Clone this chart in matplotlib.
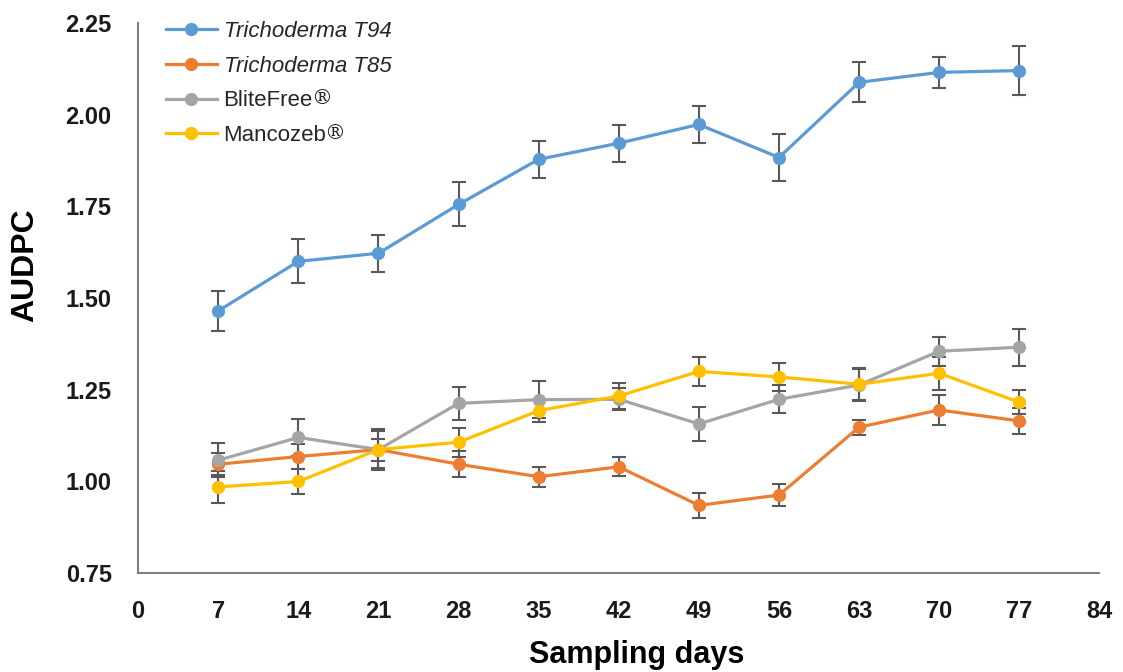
import numpy as np
import matplotlib.pyplot as plt

plt.rcParams['font.family'] = ['Liberation Sans', 'DejaVu Sans']

days = [7, 14, 21, 28, 35, 42, 49, 56, 63, 70, 77]

t94 = [1.465, 1.600, 1.622, 1.755, 1.878, 1.922, 1.973, 1.883, 2.088, 2.115, 2.120]
t94_err = [0.055, 0.060, 0.050, 0.060, 0.050, 0.050, 0.050, 0.065, 0.055, 0.042, 0.068]

t85 = [1.047, 1.068, 1.087, 1.047, 1.013, 1.040, 0.935, 0.963, 1.148, 1.195, 1.165]
t85_err = [0.030, 0.035, 0.050, 0.035, 0.027, 0.026, 0.034, 0.030, 0.020, 0.040, 0.035]

blite = [1.058, 1.120, 1.087, 1.213, 1.223, 1.224, 1.157, 1.224, 1.263, 1.355, 1.366]
blite_err = [0.046, 0.050, 0.057, 0.045, 0.050, 0.030, 0.047, 0.038, 0.043, 0.039, 0.050]

manco = [0.985, 1.000, 1.087, 1.107, 1.193, 1.233, 1.300, 1.285, 1.265, 1.295, 1.216]
manco_err = [0.044, 0.035, 0.030, 0.040, 0.030, 0.035, 0.040, 0.039, 0.043, 0.045, 0.032]

labels = ['Trichoderma T94', 'Trichoderma T85', 'BliteFree', 'Mancozeb']
colors = ['#5B9BD5', '#ED7D31', '#A5A5A5', '#FFC000']

fig = plt.figure(figsize=(11.23, 6.72), dpi=100)
ax = fig.add_axes([0.123, 0.147, 0.856, 0.819])

series = [(t94, t94_err), (t85, t85_err), (blite, blite_err), (manco, manco_err)]
for (vals, err), lab, c in zip(series, labels, colors):
    ax.errorbar(days, vals, yerr=err, color=c, lw=2.3, marker='o', ms=8.5,
                ecolor='#595959', elinewidth=1.5, capsize=5, capthick=1.5,
                label=lab)

ax.set_xlim(0, 84)
ax.set_ylim(0.75, 2.25)
ax.set_xticks(np.arange(0, 85, 7))
ax.set_yticks([0.75, 1.00, 1.25, 1.50, 1.75, 2.00, 2.25])
ax.set_yticklabels(['0.75', '1.00', '1.25', '1.50', '1.75', '2.00', '2.25'])
ax.tick_params(length=0, labelsize=17, pad=19, colors='#1a1a1a')
for t in ax.get_xticklabels() + ax.get_yticklabels():
    t.set_fontweight('bold')

for s in ['top', 'right']:
    ax.spines[s].set_visible(False)
for s in ['left', 'bottom']:
    ax.spines[s].set_color('#7f7f7f')
    ax.spines[s].set_linewidth(1.5)

ax.set_xlabel('Sampling days', fontsize=22, fontweight='bold', va='top')
ax.xaxis.set_label_coords(0.519, -0.122)
ax.set_ylabel('AUDPC', fontsize=23, fontweight='bold')
ax.yaxis.set_label_coords(-0.102, 0.56)

# legend handles without error bars
handles = [plt.Line2D([], [], color=c, lw=2.3, marker='o', ms=8.5) for c in colors]
leg = ax.legend(handles, labels, loc='upper left', bbox_to_anchor=(0.008, 1.04),
                frameon=False, fontsize=16, handlelength=2.3, labelspacing=0.62,
                handletextpad=0.3)
for t in leg.get_texts()[:2]:
    t.set_fontstyle('italic')
for t in leg.get_texts():
    t.set_color('#262626')

# registered mark after the product names
fig.canvas.draw()
r = fig.canvas.get_renderer()
for t in leg.get_texts()[2:]:
    bb = t.get_window_extent(r)
    fig.text(bb.x1 - 2, bb.y1 - 8, '\u00ae', family='DejaVu Serif',
             fontsize=15, color='#262626', transform=None, va='center')

fig.savefig('out.png', dpi=100)
